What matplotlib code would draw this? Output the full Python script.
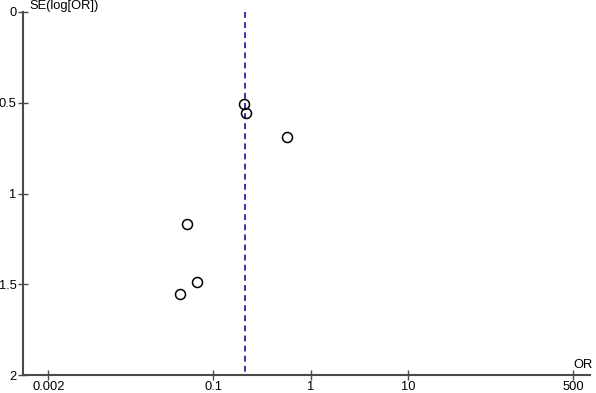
import numpy as np
import matplotlib
matplotlib.use("Agg")
from matplotlib import pyplot as plt

plt.rcParams['font.family'] = ['Liberation Sans', 'DejaVu Sans']

# study estimates
odds_ratio = [0.205, 0.215, 0.574, 0.0528, 0.0676, 0.0451]
se_log_or = [0.505, 0.556, 0.689, 1.170, 1.488, 1.552]
pooled_or = 0.211

x_ticks = [0.002, 0.1, 1, 10, 500]
x_tick_labels = ['0.002', '0.1', '1', '10', '500']
y_ticks = [0, 0.5, 1, 1.5, 2]
y_tick_labels = ['0', '0.5', '1', '1.5', '2']

fig = plt.figure(figsize=(5.96, 3.93), dpi=100)
ax = fig.add_axes([23 / 596, 18 / 393, (590 - 23) / 596, (375 - 12) / 393])

axis_color = '#4a4a4a'
fs = 9.3
ax.plot([pooled_or, pooled_or], [0, 2], color='#3535a8', linestyle=(0, (3, 2.2)),
        linewidth=1.4, zorder=2)
ax.plot(odds_ratio, se_log_or, linestyle='none', marker='o', markersize=7.2,
        markerfacecolor='none', markeredgecolor='black', markeredgewidth=1.1,
        clip_on=False, zorder=3)

ax.set_xscale('log')
ax.set_xlim(0.001096, 750)
ax.set_ylim(2, 0)
ax.set_xticks(x_ticks)
ax.set_xticklabels(x_tick_labels)
ax.set_yticks(y_ticks)
ax.set_yticklabels(y_tick_labels)
ax.minorticks_off()

for side in ['top', 'right']:
    ax.spines[side].set_visible(False)
for side in ['left', 'bottom']:
    ax.spines[side].set_color(axis_color)
    ax.spines[side].set_linewidth(1.5)

ax.tick_params(axis='both', direction='inout', length=7, width=1.0,
               color=axis_color, labelsize=fs, labelcolor='black', pad=1)

ax.text(0.011, 1.0, 'SE(log[OR])', transform=ax.transAxes, fontsize=fs,
        ha='left', va='bottom')
ax.text(1.005, 0.012, 'OR', transform=ax.transAxes, fontsize=fs,
        ha='right', va='bottom')

fig.savefig('out.png', dpi=100)
